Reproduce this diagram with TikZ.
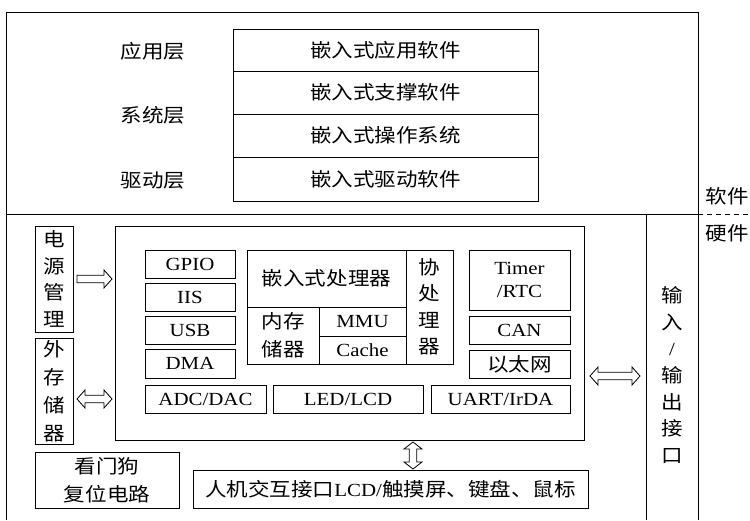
\documentclass[tikz,border=0pt]{standalone}
\usepackage{fontspec}
\setmainfont[FakeStretch=1.13]{Liberation Serif}
\newfontfamily\cjk[FakeStretch=1.13,Scale=1.03]{Noto Sans CJK SC}
\usetikzlibrary{calc}
\newcommand\bx[6]{\node[box, minimum width={#4-#2}, minimum height={#5-#3}] (#1) at (#2,#3) {#6};}
% block arrow outlines between two named points
\newcommand\hsingle[2]{\draw[arr] let \p1=(#1), \p2=(#2) in (\x1,\y1+3.75pt) -- (\x2-8pt,\y1+3.75pt) -- (\x2-8pt,\y1+9pt) -- (\x2,\y1) -- (\x2-8pt,\y1-9pt) -- (\x2-8pt,\y1-3.75pt) -- (\x1,\y1-3.75pt) -- cycle;}
\newcommand\hdouble[2]{\draw[arr] let \p1=(#1), \p2=(#2) in (\x1,\y1) -- (\x1+8pt,\y1+9pt) -- (\x1+8pt,\y1+3.75pt) -- (\x2-8pt,\y1+3.75pt) -- (\x2-8pt,\y1+9pt) -- (\x2,\y1) -- (\x2-8pt,\y1-9pt) -- (\x2-8pt,\y1-3.75pt) -- (\x1+8pt,\y1-3.75pt) -- (\x1+8pt,\y1-9pt) -- cycle;}
\newcommand\vdouble[2]{\draw[arr] let \p1=(#1), \p2=(#2) in (\x1,\y1) -- (\x1+9pt,\y1-7pt) -- (\x1+3.75pt,\y1-7pt) -- (\x1+3.75pt,\y2+7pt) -- (\x1+9pt,\y2+7pt) -- (\x1,\y2) -- (\x1-9pt,\y2+7pt) -- (\x1-3.75pt,\y2+7pt) -- (\x1-3.75pt,\y1-7pt) -- (\x1-9pt,\y1-7pt) -- cycle;}
\begin{document}
\begin{tikzpicture}[x=1pt,y=-1pt,
  every node/.style={font=\fontsize{18.5}{26.5}\selectfont},
  box/.style={draw, line width=0.9pt, inner sep=0pt, outer sep=0pt, anchor=north west, align=center},
  lbl/.style={inner sep=0pt, align=center},
  frame/.style={line width=0.9pt},
  arr/.style={line width=0.8pt, line join=miter}]
\useasboundingbox (0,0) rectangle (750,520);
% outer frame
\draw[frame] (6,520) -- (6,12) -- (698,12) -- (698,520);
\draw[frame] (6,214) -- (698,214);
\draw[frame, dash pattern=on 5pt off 4pt] (698,214) -- (750,214);
\node[lbl] (sw) at (727,196) {\cjk 软件};
\node[lbl] (hw) at (727,233) {\cjk 硬件};
% software layers
\bx{app}{233}{29}{538}{71}{\cjk 嵌入式应用软件}
\bx{sup}{233}{71}{538}{114}{\cjk 嵌入式支撑软件}
\bx{os}{233}{114}{538}{157}{\cjk 嵌入式操作系统}
\bx{drv}{233}{157}{538}{201}{\cjk 嵌入式驱动软件}
\node[lbl] (lapp) at (153,51) {\cjk 应用层};
\node[lbl] (lsys) at (153,115) {\cjk 系统层};
\node[lbl] (ldrv) at (153,181) {\cjk 驱动层};
% hardware
\bx{pm}{35}{226}{73}{332}{\cjk 电\\\cjk 源\\\cjk 管\\\cjk 理}
\node[box, minimum width=38, minimum height=106, font=\fontsize{18.5}{28}\selectfont] (es) at (35,338) {\cjk 外\\\cjk 存\\\cjk 储\\\cjk 器};
\bx{chip}{115}{226}{584}{440}{}
\bx{gpio}{145}{250}{235}{278}{GPIO}
\bx{iis}{145}{283}{235}{311}{IIS}
\bx{usb}{145}{316}{235}{344}{USB}
\bx{dma}{145}{349}{235}{378}{DMA}
\bx{adc}{145}{385}{266}{413}{ADC/DAC}
\bx{led}{273}{385}{423}{413}{LED/LCD}
\bx{uart}{431}{385}{570}{413}{UART/IrDA}
\bx{proc}{247}{250}{406}{307}{\cjk 嵌入式处理器}
\node[box, minimum width=72, minimum height=57, font=\fontsize{18.5}{28}\selectfont] (mem) at (247,307) {\cjk 内存\\\cjk 储器};
\bx{mmu}{319}{307}{406}{336}{MMU}
\bx{cache}{319}{336}{406}{364}{Cache}
\bx{cop}{406}{250}{453}{364}{\cjk 协\\\cjk 处\\\cjk 理\\\cjk 器}
\node[box, minimum width=101, minimum height=60, font=\fontsize{18.5}{23}\selectfont] (timer) at (469,250) {Timer\\/RTC};
\bx{can}{469}{316}{570}{344}{CAN}
\bx{eth}{469}{350}{570}{378}{\cjk 以太网}
\node[inner sep=0pt, outer sep=0pt, anchor=north west, minimum width=52, minimum height=306] (io) at (646,214) {};
\draw[frame] (io.north west) -- (io.south west);
\node[lbl, font=\fontsize{18.5}{26.7}\selectfont] (iotxt) at (672,375) {\cjk 输\\\cjk 入\\/\\\cjk 输\\\cjk 出\\\cjk 接\\\cjk 口};
\node[box, minimum width=144, minimum height=56, font=\fontsize{18.5}{28}\selectfont] (wd) at (35,452) {\cjk 看门狗\\\cjk 复位电路};
\bx{hmi}{193}{470}{588}{508}{{\cjk 人机交互接口}LCD/{\cjk 触摸屏、键盘、鼠标}}
% connectors
\coordinate (ya) at (0,399);
\coordinate (yb) at (0,376);
\coordinate (xc) at (413,0);
\hsingle{[xshift=4pt]pm.east}{[xshift=-3pt]pm.east -| chip.west}
\hdouble{[xshift=4pt]es.east |- ya}{[xshift=-3pt]chip.west |- ya}
\hdouble{[xshift=6pt]chip.east |- yb}{[xshift=-6pt]io.west |- yb}
\vdouble{[yshift=-2pt]chip.south -| xc}{[yshift=1pt]hmi.north -| xc}
\end{tikzpicture}
\end{document}
